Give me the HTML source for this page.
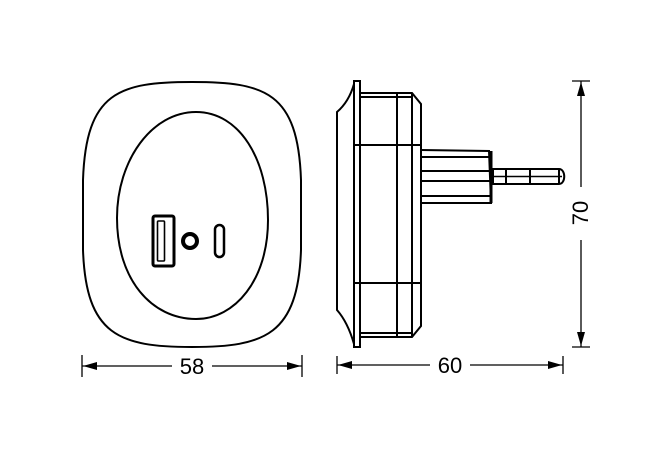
<!DOCTYPE html>
<html><head><meta charset="utf-8"><style>
html,body{margin:0;padding:0;background:#fff;}
svg{display:block}
text{font-family:"Liberation Sans",sans-serif;fill:#000}
</style></head><body>
<svg width="670" height="455" viewBox="0 0 670 455" xmlns="http://www.w3.org/2000/svg">
<g fill="none" stroke="#000" stroke-width="2">
<!-- front view -->
<path d="M192 82 C265 82 298 92 301 180 L301 250 C298 335 265 347 192 347 C119 347 86 335 83 250 L83 180 C86 92 119 82 192 82 Z"/>
<path d="M196 112 C240 112 268 160 268 220 C268 280 235 319 196 319 C152 319 117 280 117 218 C117 160 152 112 196 112 Z"/>
<rect x="153" y="216" width="21" height="50" rx="2" stroke-width="3"/>
<rect x="157.5" y="221" width="7" height="40" rx="1" stroke-width="1.6"/>
<circle cx="190" cy="241" r="7" stroke-width="4"/>
<rect x="215" y="225" width="9" height="32" rx="4.5" stroke-width="2.5"/>
<!-- side view -->
<path d="M354 84 C350 98 344 106 337 112 L337 310 C344 318 350 330 354 344"/>
<rect x="354" y="81" width="6" height="266"/>
<path d="M360 93 L412 93 L421 104 L421 326 L412 337 L360 337"/>
<line x1="360" y1="97" x2="413" y2="97"/>
<line x1="360" y1="333" x2="413" y2="333"/>
<line x1="397" y1="93" x2="397" y2="337"/>
<line x1="412" y1="93" x2="412" y2="337"/>
<line x1="354" y1="145" x2="421" y2="145"/>
<line x1="354" y1="283" x2="421" y2="283"/>
<path d="M421 150 L489 151 L491 203 L421 203"/>
<line x1="421" y1="157" x2="489" y2="157"/>
<line x1="421" y1="171" x2="490" y2="171"/>
<line x1="421" y1="181" x2="490" y2="181"/>
<line x1="421" y1="196" x2="490" y2="196"/>
<line x1="491" y1="151" x2="491" y2="203" stroke-width="3"/>
<path d="M493 169 L559 169 C566 169 566 184 559 184 L493 184 Z"/>
<line x1="493" y1="176.5" x2="562" y2="176.5" stroke-width="1.5"/>
<line x1="506" y1="169" x2="506" y2="184"/>
<line x1="530" y1="169" x2="530" y2="184"/>
<line x1="559" y1="169" x2="559" y2="184"/>
<!-- dims -->
<g stroke-width="1.3">
<line x1="82" y1="355" x2="82" y2="377"/><line x1="302" y1="355" x2="302" y2="377"/>
<line x1="82" y1="366" x2="172" y2="366"/><line x1="212" y1="366" x2="302" y2="366"/>
<line x1="337" y1="356" x2="337" y2="374"/><line x1="563" y1="356" x2="563" y2="374"/>
<line x1="337" y1="365" x2="430" y2="365"/><line x1="470" y1="365" x2="563" y2="365"/>
<line x1="572" y1="81" x2="590" y2="81"/><line x1="572" y1="347" x2="590" y2="347"/>
<line x1="581" y1="81" x2="581" y2="187"/><line x1="581" y1="240" x2="581" y2="347"/>
</g>
</g>
<g fill="#000">
<path d="M83 366 L97 362 L97 370 Z"/><path d="M301 366 L287 362 L287 370 Z"/>
<path d="M338 365 L352 361 L352 369 Z"/><path d="M562 365 L548 361 L548 369 Z"/>
<path d="M581 82 L577 96 L585 96 Z"/><path d="M581 346 L577 332 L585 332 Z"/>
</g>
<text x="192" y="374" font-size="22" text-anchor="middle">58</text>
<text x="450" y="373" font-size="22" text-anchor="middle">60</text>
<text transform="translate(588,213) rotate(-90)" font-size="22" text-anchor="middle">70</text>
</svg>
</body></html>
